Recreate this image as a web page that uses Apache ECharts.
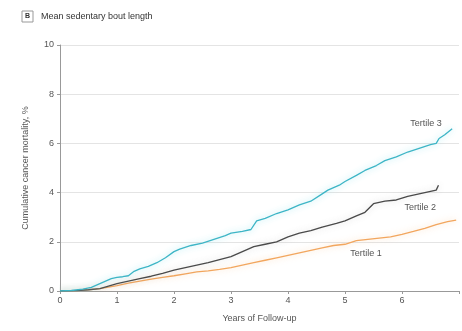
<!DOCTYPE html>
<html>
<head>
<meta charset="utf-8">
<script src="https://cdn.jsdelivr.net/npm/echarts@6/dist/echarts.min.js"></script>
<style>
  html, body { margin: 0; padding: 0; background: #fff; }
  #chart { width: 462px; height: 331px; }
</style>
</head>
<body>
<div id="chart"></div>
<script>
// Cumulative cancer mortality (%) by tertile of mean sedentary bout length
const yearTicks = [0, 1, 2, 3, 4, 5, 6];
const mortalityTicks = [0, 2, 4, 6, 8, 10];

const tertile3 = [
  [0, 0], [0.2, 0.02], [0.4, 0.08], [0.55, 0.15], [0.7, 0.3], [0.8, 0.4], [0.9, 0.5],
  [1.0, 0.55], [1.1, 0.58], [1.2, 0.62], [1.3, 0.8], [1.4, 0.9], [1.55, 1.0], [1.7, 1.15],
  [1.85, 1.35], [2.0, 1.6], [2.1, 1.7], [2.3, 1.85], [2.5, 1.95], [2.7, 2.1], [2.9, 2.25],
  [3.0, 2.35], [3.2, 2.42], [3.35, 2.5], [3.45, 2.85], [3.6, 2.95], [3.8, 3.15], [4.0, 3.3],
  [4.2, 3.5], [4.4, 3.65], [4.6, 3.95], [4.7, 4.1], [4.9, 4.3], [5.0, 4.45], [5.2, 4.7],
  [5.35, 4.9], [5.55, 5.1], [5.7, 5.3], [5.9, 5.45], [6.1, 5.65], [6.3, 5.8], [6.5, 5.95],
  [6.6, 6.0], [6.65, 6.2], [6.75, 6.35], [6.88, 6.6]
];
const tertile2 = [
  [0, 0], [0.3, 0.02], [0.5, 0.05], [0.7, 0.1], [0.85, 0.2], [1.0, 0.3], [1.2, 0.4],
  [1.4, 0.5], [1.6, 0.6], [1.8, 0.72], [2.0, 0.85], [2.2, 0.95], [2.4, 1.05], [2.6, 1.15],
  [2.8, 1.28], [3.0, 1.4], [3.2, 1.6], [3.4, 1.8], [3.6, 1.9], [3.8, 2.0], [4.0, 2.2],
  [4.2, 2.35], [4.4, 2.45], [4.6, 2.6], [4.85, 2.75], [5.0, 2.85], [5.2, 3.05], [5.35, 3.2],
  [5.5, 3.55], [5.7, 3.65], [5.9, 3.7], [6.1, 3.85], [6.3, 3.95], [6.5, 4.05], [6.6, 4.1],
  [6.64, 4.3]
];
const tertile1 = [
  [0, 0], [0.3, 0.02], [0.5, 0.05], [0.7, 0.1], [0.9, 0.18], [1.0, 0.22], [1.2, 0.32],
  [1.4, 0.4], [1.6, 0.48], [1.8, 0.55], [2.0, 0.62], [2.2, 0.7], [2.4, 0.78], [2.6, 0.82],
  [2.8, 0.88], [3.0, 0.95], [3.2, 1.05], [3.4, 1.15], [3.6, 1.25], [3.8, 1.35], [4.0, 1.45],
  [4.2, 1.55], [4.4, 1.65], [4.6, 1.75], [4.8, 1.85], [5.0, 1.9], [5.2, 2.05], [5.4, 2.1],
  [5.6, 2.15], [5.8, 2.2], [6.0, 2.3], [6.2, 2.42], [6.4, 2.55], [6.6, 2.7], [6.8, 2.82],
  [6.95, 2.88]
];
const seriesNames = ['Tertile 1', 'Tertile 2', 'Tertile 3'];

const colors = { t1: '#f2a65e', t2: '#4a4a4a', t3: '#3db5c6' };
const textColor = '#555';
const font = 'Liberation Sans Narrow, Arial Narrow, sans-serif';

function curve(name, data, color, glow, labelPos) {
  return {
    name: name,
    type: 'line',
    data: data,
    symbol: 'none',
    lineStyle: { color: color, width: 1.3, shadowColor: glow, shadowBlur: 6 },
    endLabel: {
      show: true,
      formatter: name,
      color: textColor,
      fontSize: 9,
      fontFamily: font,
      offset: labelPos
    },
    z: 3
  };
}

const chart = echarts.init(document.getElementById('chart'));
chart.setOption({
  animation: false,
  backgroundColor: '#fff',
  graphic: [
    { type: 'rect', shape: { x: 22, y: 11, width: 11, height: 11 },
      style: { fill: '#fff', stroke: '#999', lineWidth: 1 } },
    { type: 'text', style: { x: 27.5, y: 16.5, text: 'B', align: 'center', verticalAlign: 'middle',
      font: 'bold 7px ' + font, fill: '#333' } },
    { type: 'text', style: { x: 41, y: 17, text: 'Mean sedentary bout length', verticalAlign: 'middle',
      font: '9px ' + font, fill: '#333' } }
  ],
  grid: { left: 60, top: 45, width: 405, height: 246, containLabel: false },
  xAxis: {
    type: 'value',
    min: 0, max: 7, interval: 1,
    name: 'Years of Follow-up',
    nameLocation: 'middle',
    nameGap: 23,
    nameTextStyle: { color: textColor, fontSize: 9, fontFamily: font },
    axisLine: { lineStyle: { color: '#999', width: 1 } },
    axisTick: { show: true, length: 3, lineStyle: { color: '#999' } },
    axisLabel: {
      color: textColor, fontSize: 9, fontFamily: font, margin: 5,
      formatter: v => yearTicks.indexOf(v) >= 0 ? String(v) : ''
    },
    splitLine: { show: false }
  },
  yAxis: {
    type: 'value',
    min: 0, max: 10, interval: 2,
    name: 'Cumulative cancer mortality, %',
    nameLocation: 'middle',
    nameGap: 30,
    nameTextStyle: { color: textColor, fontSize: 9, fontFamily: font },
    axisLine: { show: true, lineStyle: { color: '#999', width: 1 } },
    axisTick: { show: true, length: 3, lineStyle: { color: '#999' } },
    axisLabel: {
      color: textColor, fontSize: 9, fontFamily: font, margin: 6,
      formatter: v => mortalityTicks.indexOf(v) >= 0 ? String(v) : ''
    },
    splitLine: { show: true, lineStyle: { color: '#e4e4e4', width: 1 } }
  },
  series: [
    curve(seriesNames[0], tertile1, colors.t1, 'rgba(250,200,150,0.7)', [-114, 33]),
    curve(seriesNames[1], tertile2, colors.t2, 'rgba(120,120,120,0.3)', [-42, 22]),
    curve(seriesNames[2], tertile3, colors.t3, 'rgba(150,230,240,0.9)', [-50, -5])
  ]
});
</script>
</body>
</html>
